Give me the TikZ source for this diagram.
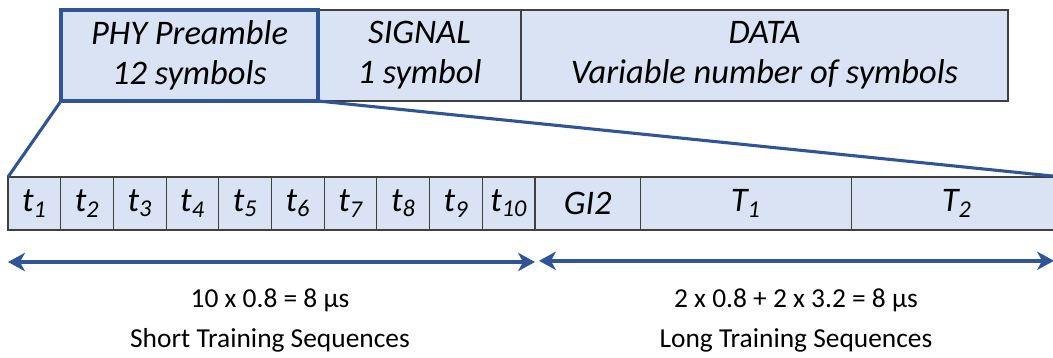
\documentclass[tikz,border=0pt]{standalone}
\usepackage{fontspec}
\setmainfont{Carlito}
\usetikzlibrary{positioning,arrows.meta}
\definecolor{cellfill}{HTML}{DAE3F3}
\definecolor{cellline}{HTML}{404040}
\definecolor{zoomblue}{HTML}{2F5597}
\tikzstyle{field} = [rectangle, draw=cellline, line width=0.8pt, fill=cellfill, align=center, inner sep=0pt, outer sep=0pt, minimum height=2.275cm, font=\itshape\fontsize{24.5}{28.5}\selectfont]
\tikzstyle{cell} = [rectangle, draw=cellline, line width=0.8pt, fill=cellfill, inner sep=0pt, outer sep=0pt, minimum width=1.3175cm, minimum height=1.325cm, font=\itshape\fontsize{24.5}{28.5}\selectfont]
\tikzstyle{zoomline} = [draw=zoomblue, line width=2.2pt]
\tikzstyle{span} = [draw=zoomblue, line width=2.8pt, {Stealth[length=12pt,width=13pt,inset=3.5pt]}-{Stealth[length=12pt,width=13pt,inset=3.5pt]}]
\tikzstyle{note} = [align=center, font=\fontsize{19.5}{28.5}\selectfont]

\begin{document}
\begin{tikzpicture}[node distance=1.3175cm]
   \useasboundingbox (0,0) rectangle (26.325,-8.95);
   % frame fields
   \node[field, minimum width=5.075cm] (sig) at (10.4875,-1.3875) {SIGNAL\\1 symbol};
   \node[field, minimum width=12.175cm] (data) [right=0pt of sig] {DATA\\Variable number of symbols};
   \node[field, minimum width=6.425cm, draw=zoomblue, line width=2.8pt] (phy) [left=0pt of sig] {PHY Preamble\\12 symbols};
   % preamble symbols
   \node[cell] (t1) at (0.8588,-5.0875) {t\textsubscript{1}};
   \node[cell] (t2)  [right of=t1]  {t\textsubscript{2}};
   \node[cell] (t3)  [right of=t2]  {t\textsubscript{3}};
   \node[cell] (t4)  [right of=t3]  {t\textsubscript{4}};
   \node[cell] (t5)  [right of=t4]  {t\textsubscript{5}};
   \node[cell] (t6)  [right of=t5]  {t\textsubscript{6}};
   \node[cell] (t7)  [right of=t6]  {t\textsubscript{7}};
   \node[cell] (t8)  [right of=t7]  {t\textsubscript{8}};
   \node[cell] (t9)  [right of=t8]  {t\textsubscript{9}};
   \node[cell] (t10) [right of=t9]  {t\textsubscript{10}};
   \node[cell, minimum width=2.635cm] (gi) [right=0pt of t10] {GI2};
   \node[cell, minimum width=5.27cm] (T1) [right=0pt of gi] {T\textsubscript{1}};
   \node[cell, minimum width=5.27cm] (T2) [right=0pt of T1] {T\textsubscript{2}};
   \draw[zoomline] (phy.south west) -- (t1.north west);
   \draw[zoomline] (phy.south east) -- (T2.north east);
   % durations
   \coordinate[below=0.8cm of t1.south west] (s1);
   \coordinate[below=0.8cm of t10.south east] (s2);
   \coordinate[below=0.77cm of gi.south west, xshift=0.1cm] (s3);
   \coordinate[below=0.77cm of T2.south east, xshift=-0.2cm] (s4);
   \draw[span] (s1) -- (s2);
   \draw[span] (s3) -- (s4);
   \node[note] (sts) at (6.75,-8.02) {10 x 0.8 = 8 µs\\Short Training Sequences};
   \node[note] (lts) at (19.9,-8.02) {2 x 0.8 + 2 x 3.2 = 8 µs\\Long Training Sequences};
\end{tikzpicture}
\end{document}
